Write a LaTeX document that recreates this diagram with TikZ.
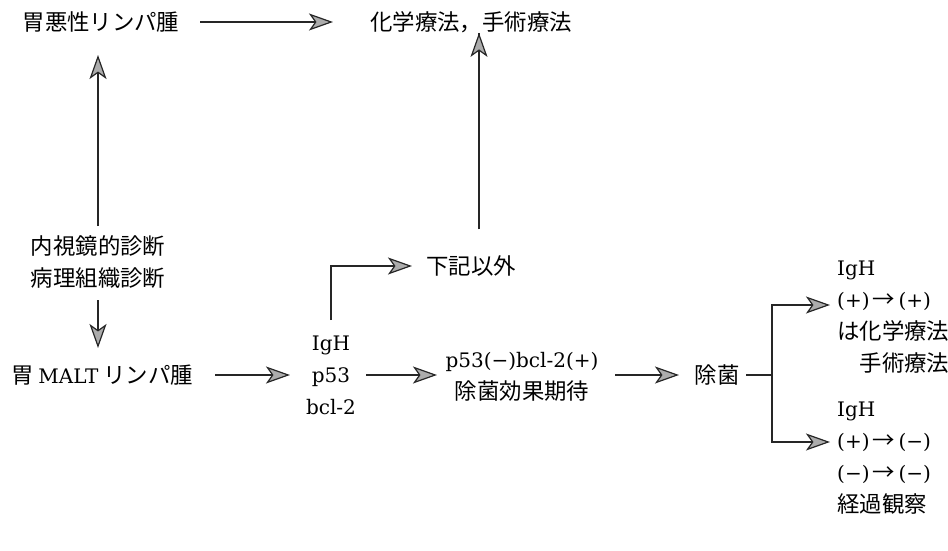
\documentclass[tikz,border=0pt]{standalone}
\usepackage{fontspec}
\setmainfont{DejaVu Serif}
\newfontfamily\cjk[Scale=1.12]{Noto Sans CJK JP}
\usetikzlibrary{arrows.meta}
\begin{document}
\begin{tikzpicture}[x=1pt,y=-1pt,
  lbl/.style={inner sep=0pt, font=\fontsize{20}{32}\selectfont, align=center},
  cj/.style={lbl, font=\fontsize{20}{32}\selectfont\cjk},
  ln/.style={line width=1.2pt, draw=black!85},
  arr/.style={ln, -{Stealth[length=24pt,width=17pt,inset=6pt,fill=gray!65,line width=1.2pt]}}]
\useasboundingbox (0,0) rectangle (948,551);

% nodes
\node[cj] (gml) at (101,22) {胃悪性リンパ腫};
\node[cj] (chem) at (471,22) {化学療法，手術療法};
\node[cj] (diag) at (98,262) {内視鏡的診断\\病理組織診断};
\node[cj] (malt) at (102,375) {胃 {\rmfamily MALT} リンパ腫};
\node[lbl] (igh) at (331,375) {IgH\\p53\\bcl-2};
\node[cj] (other) at (471,266) {下記以外};
\node[lbl] (p53) at (522,377) {p53(−)bcl-2(+)\\{\cjk 除菌効果期待}};
\node[cj] (jokin) at (717,375) {除菌};
\node[lbl, align=left, anchor=west] (res1) at (837,317)
  {IgH\\(+)\,{\cjk →}\,(+)\\{\cjk は化学療法}\\{\cjk\hspace*{1em}手術療法}};
\node[lbl, align=left, anchor=west] (res2) at (837,458)
  {IgH\\(+)\,{\cjk →}\,(−)\\(−)\,{\cjk →}\,(−)\\{\cjk 経過観察}};

% connectors
\draw[arr] (gml.east -| 200,0) -- (gml.east -| 333,0);
\draw[arr] (diag.north |- 0,226) -- (diag.north |- 0,55);
\draw[arr] (diag.south |- 0,300) -- (diag.south |- 0,348);
\draw[arr] (malt.east -| 215,0) -- (malt.east -| 290,0);
\draw[arr] (igh.north |- 0,320) |- (other.west -| 412,0);
\draw[arr] (other.north -| 479,0) ++(0,-26) -- (chem.south -| 479,0) ++(0,0);
\draw[arr] (igh.east -| 366,0) -- (igh.east -| 437,0);
\draw[arr] (jokin.west -| 615,0) -- (jokin.west -| 679,0);
\coordinate (br) at (772,375);
\coordinate (t1) at (830,305);
\coordinate (t2) at (830,442);
\draw[ln] (jokin.east -| 746,0) -- (br);
\draw[arr] (br) |- (t1);
\draw[arr] (br) |- (t2);
\end{tikzpicture}
\end{document}
